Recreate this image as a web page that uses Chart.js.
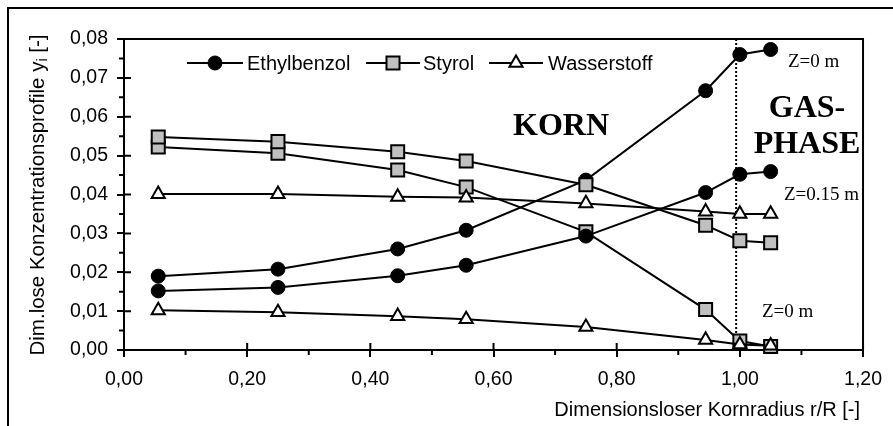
<!DOCTYPE html>
<html>
<head>
<meta charset="utf-8">
<script src="https://cdn.jsdelivr.net/npm/chart.js@4.4.0/dist/chart.umd.min.js"></script>
<style>
  html, body { margin: 0; padding: 0; background: #fff; }
  #wrap { width: 893px; height: 426px; position: relative; }
</style>
</head>
<body>
<div id="wrap"><canvas id="c" width="893" height="426"></canvas></div>
<script>
// ---- data ----
const radius = [0.0556, 0.25, 0.4444, 0.5556, 0.75, 0.9444, 1.0, 1.05];
const ethylbenzolZ0   = [0.0190, 0.0208, 0.0260, 0.0308, 0.0437, 0.0667, 0.0760, 0.0773];
const ethylbenzolZ015 = [0.0152, 0.0161, 0.0191, 0.0218, 0.0293, 0.0405, 0.0452, 0.0459];
const styrolZ0        = [0.0522, 0.0506, 0.0463, 0.0419, 0.0304, 0.0104, 0.0023, 0.0009];
const styrolZ015      = [0.0548, 0.0536, 0.0510, 0.0486, 0.0425, 0.0321, 0.0281, 0.0276];
const wasserstoffZ0   = [0.0102, 0.0097, 0.0087, 0.0079, 0.0059, 0.0026, 0.0014, 0.0011];
const wasserstoffZ015 = [0.0401, 0.0401, 0.0394, 0.0392, 0.0377, 0.0356, 0.0350, 0.0350];
const xTickLabels = ['0,00', '0,20', '0,40', '0,60', '0,80', '1,00', '1,20'];
const yTickLabels = ['0,00', '0,01', '0,02', '0,03', '0,04', '0,05', '0,06', '0,07', '0,08'];
const legendNames = ['Ethylbenzol', 'Styrol', 'Wasserstoff'];
const phaseBoundary = 0.994;

const SANS = "'Liberation Sans', Arial, sans-serif";
const SERIF = "'Liberation Serif', 'Times New Roman', serif";

function pts(ys) { return radius.map((x, i) => ({ x: x, y: ys[i] })); }

const styles = {
  eb: { pointStyle: 'circle', pointRadius: 7, pointBackgroundColor: '#000', pointBorderColor: '#000', pointBorderWidth: 1 },
  st: { pointStyle: 'rect', pointRadius: 9.2, pointBackgroundColor: '#C0C0C0', pointBorderColor: '#000', pointBorderWidth: 2 },
  h2: { pointStyle: 'triangle', pointRadius: 7.6, pointBackgroundColor: '#fff', pointBorderColor: '#000', pointBorderWidth: 2 }
};
function ds(label, ys, st) {
  return Object.assign({
    label: label, data: pts(ys), showLine: true, borderColor: '#000', borderWidth: 2,
    tension: 0, clip: false, pointHoverRadius: st.pointRadius
  }, st);
}

// first dataset is drawn on top
const datasets = [
  ds('Ethylbenzol Z=0.15 m', ethylbenzolZ015, styles.eb),
  ds('Styrol Z=0.15 m', styrolZ015, styles.st),
  ds('Wasserstoff Z=0 m', wasserstoffZ0, styles.h2),
  ds('Wasserstoff Z=0.15 m', wasserstoffZ015, styles.h2),
  ds('Ethylbenzol Z=0 m', ethylbenzolZ0, styles.eb),
  ds('Styrol Z=0 m', styrolZ0, styles.st)
];

function drawMarker(ctx, kind, x, y) {
  ctx.save();
  ctx.strokeStyle = '#000';
  ctx.beginPath();
  if (kind === 'eb') {
    ctx.fillStyle = '#000'; ctx.lineWidth = 1;
    ctx.arc(x, y, 7, 0, Math.PI * 2);
  } else if (kind === 'st') {
    const s = Math.SQRT1_2 * 9.2;
    ctx.fillStyle = '#C0C0C0'; ctx.lineWidth = 2;
    ctx.rect(x - s, y - s, 2 * s, 2 * s);
  } else {
    const r = 7.6;
    ctx.fillStyle = '#fff'; ctx.lineWidth = 2;
    for (let k = 0; k < 3; k++) {
      const a = k * 2 * Math.PI / 3;
      const px = x + Math.sin(a) * r, py = y - Math.cos(a) * r;
      if (k === 0) ctx.moveTo(px, py); else ctx.lineTo(px, py);
    }
    ctx.closePath();
  }
  ctx.fill(); ctx.stroke();
  ctx.restore();
}

const decor = {
  id: 'decor',
  beforeDatasetsDraw(chart) {
    const ctx = chart.ctx, a = chart.chartArea;
    const xs = chart.scales.x, ys = chart.scales.y;
    ctx.save();
    ctx.strokeStyle = '#000';
    ctx.lineWidth = 2;
    // outer frame
    ctx.beginPath();
    ctx.moveTo(8, 426); ctx.lineTo(8, 8); ctx.lineTo(893, 8);
    ctx.stroke();
    // plot frame top / right
    ctx.beginPath();
    ctx.moveTo(a.left, a.top); ctx.lineTo(a.right, a.top); ctx.lineTo(a.right, a.bottom);
    ctx.stroke();
    // inner halves of major ticks
    ctx.beginPath();
    for (let v = 0; v <= 1.2001; v += 0.2) {
      const px = xs.getPixelForValue(v);
      ctx.moveTo(px, a.bottom); ctx.lineTo(px, a.bottom - 7);
    }
    for (let v = 0; v <= 0.08001; v += 0.01) {
      const py = ys.getPixelForValue(v);
      ctx.moveTo(a.left, py); ctx.lineTo(a.left + 7, py);
    }
    // minor ticks (outside)
    for (let v = 0.1; v < 1.2; v += 0.2) {
      const px = xs.getPixelForValue(v);
      ctx.moveTo(px, a.bottom); ctx.lineTo(px, a.bottom + 5);
    }
    for (let v = 0.005; v < 0.08; v += 0.01) {
      const py = ys.getPixelForValue(v);
      ctx.moveTo(a.left, py); ctx.lineTo(a.left - 5, py);
    }
    ctx.stroke();
    // dotted phase boundary
    ctx.setLineDash([2, 2]);
    ctx.beginPath();
    const bx = xs.getPixelForValue(phaseBoundary);
    ctx.moveTo(bx, a.top); ctx.lineTo(bx, a.bottom);
    ctx.stroke();
    ctx.restore();
  },
  afterDraw(chart) {
    const ctx = chart.ctx, a = chart.chartArea;
    ctx.save();
    ctx.fillStyle = '#000';
    // y axis title with subscript
    ctx.translate(38, 195);
    ctx.rotate(-Math.PI / 2);
    ctx.textBaseline = 'middle';
    const big = '20.5px ' + SANS, small = '14px ' + SANS;
    const t1 = 'Dim.lose Konzentrationsprofile y', t2 = 'i', t3 = ' [-]';
    ctx.font = big; const w1 = ctx.measureText(t1).width, w3 = ctx.measureText(t3).width;
    ctx.font = small; const w2 = ctx.measureText(t2).width;
    let sx = -(w1 + w2 + w3) / 2;
    ctx.font = big; ctx.textAlign = 'left';
    ctx.fillText(t1, sx, 0);
    ctx.font = small; ctx.fillText(t2, sx + w1, 5);
    ctx.font = big; ctx.fillText(t3, sx + w1 + w2, 0);
    ctx.restore();

    ctx.save();
    ctx.fillStyle = '#000';
    // x axis title
    ctx.font = '20px ' + SANS;
    ctx.textAlign = 'right'; ctx.textBaseline = 'middle';
    ctx.fillText('Dimensionsloser Kornradius r/R [-]', 860, 410);
    // region labels
    ctx.font = 'bold 32px ' + SERIF;
    ctx.textAlign = 'center'; ctx.textBaseline = 'alphabetic';
    ctx.fillText('KORN', 561, 135);
    ctx.fillText('GAS-', 807, 117);
    ctx.fillText('PHASE', 807, 153);
    // Z labels
    ctx.font = '19px ' + SERIF;
    ctx.textAlign = 'left';
    ctx.fillText('Z=0 m', 788, 67);
    ctx.fillText('Z=0.15 m', 784, 200);
    ctx.fillText('Z=0 m', 762, 317);
    // legend
    const ly = 63;
    const items = [
      { kind: 'eb', x0: 187, x1: 243, tx: 247 },
      { kind: 'st', x0: 366, x1: 420, tx: 423 },
      { kind: 'h2', x0: 489, x1: 543, tx: 548 }
    ];
    ctx.font = '20px ' + SANS;
    ctx.textBaseline = 'middle';
    items.forEach((it, i) => {
      ctx.strokeStyle = '#000'; ctx.lineWidth = 2;
      ctx.beginPath(); ctx.moveTo(it.x0, ly); ctx.lineTo(it.x1, ly); ctx.stroke();
      drawMarker(ctx, it.kind, (it.x0 + it.x1) / 2, ly);
      ctx.fillStyle = '#000';
      ctx.fillText(legendNames[i], it.tx, ly + 1);
    });
    ctx.restore();
  }
};

new Chart(document.getElementById('c'), {
  type: 'scatter',
  data: { datasets: datasets },
  options: {
    responsive: false,
    animation: false,
    events: [],
    layout: { padding: { left: 8, right: 23, top: 39, bottom: 0 } },
    plugins: { legend: { display: false }, tooltip: { enabled: false } },
    scales: {
      x: {
        type: 'linear', min: 0, max: 1.2,
        afterFit(s) { s.height = 76; },
        afterBuildTicks(s) { s.ticks = xTickLabels.map((_, i) => ({ value: i * 0.2 })); },
        ticks: {
          callback: (v, i) => xTickLabels[i],
          font: { family: SANS, size: 19.5 }, color: '#000', padding: 11, maxRotation: 0, autoSkip: false
        },
        grid: { display: true, drawOnChartArea: false, drawTicks: true, tickLength: 7, color: '#000', lineWidth: 2 },
        border: { display: true, color: '#000', width: 2 }
      },
      y: {
        type: 'linear', min: 0, max: 0.08,
        afterFit(s) { s.width = 116; },
        afterBuildTicks(s) { s.ticks = yTickLabels.map((_, i) => ({ value: i * 0.01 })); },
        ticks: {
          callback: (v, i) => yTickLabels[i],
          font: { family: SANS, size: 19.5 }, color: '#000', padding: 9, autoSkip: false
        },
        grid: { display: true, drawOnChartArea: false, drawTicks: true, tickLength: 7, color: '#000', lineWidth: 2 },
        border: { display: true, color: '#000', width: 2 }
      }
    }
  },
  plugins: [decor]
});
</script>
</body>
</html>
